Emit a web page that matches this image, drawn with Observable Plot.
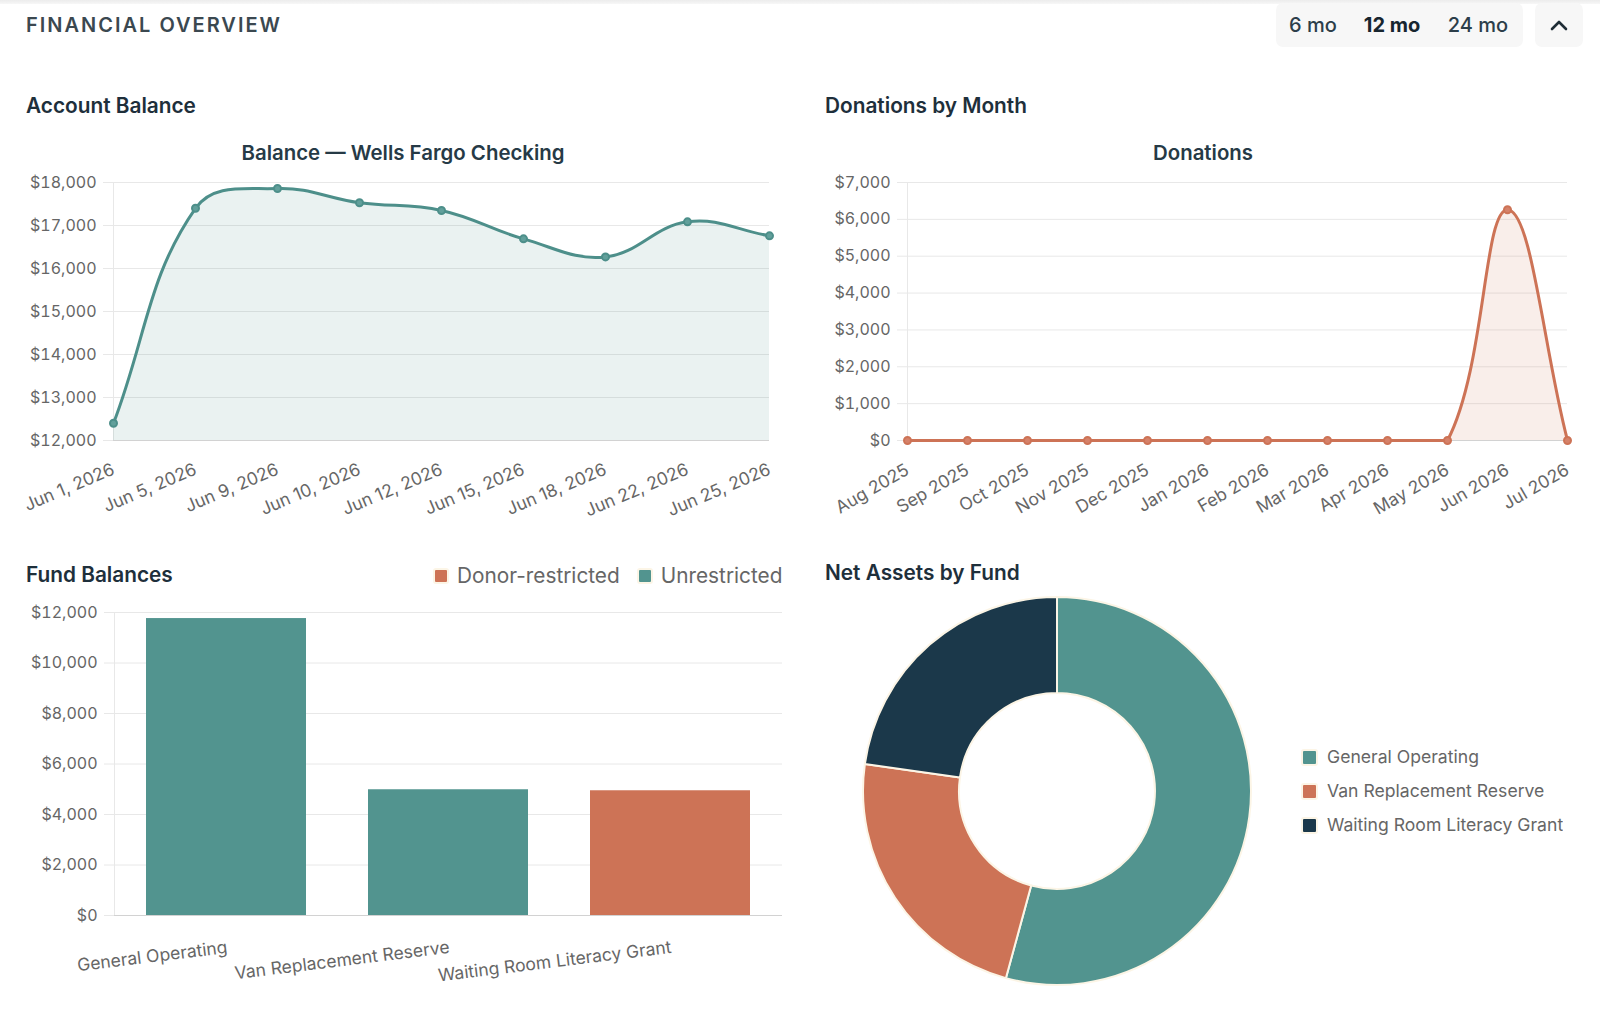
<!DOCTYPE html>
<html>
<head>
<meta charset="utf-8">
<script src="https://cdn.jsdelivr.net/npm/d3@7"></script>
<script src="https://cdn.jsdelivr.net/npm/@observablehq/plot@0.6"></script>
<style>
  html, body { margin: 0; padding: 0; background: #fff; }
  body { width: 1600px; height: 1015px; position: relative; overflow: hidden; font-family: Inter, "Noto Sans", sans-serif; }
  .abs { position: absolute; }
  .mid { transform: translateY(-50%); line-height: 1; white-space: nowrap; }
  .center { transform: translate(-50%, -50%); line-height: 1; white-space: nowrap; }
  .topband { left: 0; top: 0; width: 1600px; height: 4px; background: linear-gradient(#ececec, #f7f7f7); }
  .overview { font-size: 20px; font-weight: 600; letter-spacing: 2px; color: #3b4850; }
  .section { font-size: 20.8px; font-weight: 600; color: #1e2f3b; }
  .charttitle { font-size: 20.4px; font-weight: 600; color: #263a46; }
  .group { background: #f7f7f7; border-radius: 7px; }
  .period { font-size: 20px; font-weight: 500; color: #2c3e4a; }
  .period.active { font-weight: 700; color: #17252f; }
  .fund-key-swatch > svg rect, .asset-key-swatch > svg rect { rx: 2px; ry: 2px; stroke: #fcf5e6; stroke-width: 2px; }
</style>
</head>
<body>
<div id="root"></div>
<script>
// ---- data ----
const periodOptions = ["6 mo", "12 mo", "24 mo"];
const activePeriod = "12 mo";

const balanceDates = ["Jun 1, 2026", "Jun 5, 2026", "Jun 9, 2026", "Jun 10, 2026", "Jun 12, 2026", "Jun 15, 2026", "Jun 18, 2026", "Jun 22, 2026", "Jun 25, 2026"];
const balanceValues = [12400, 17400, 17860, 17530, 17350, 16690, 16270, 17085, 16760];
const balanceTicks = [12000, 13000, 14000, 15000, 16000, 17000, 18000];

const donationMonths = ["Aug 2025", "Sep 2025", "Oct 2025", "Nov 2025", "Dec 2025", "Jan 2026", "Feb 2026", "Mar 2026", "Apr 2026", "May 2026", "Jun 2026", "Jul 2026"];
const donationValues = [0, 0, 0, 0, 0, 0, 0, 0, 0, 0, 6260, 0];
const donationTicks = [0, 1000, 2000, 3000, 4000, 5000, 6000, 7000];

const funds = ["General Operating", "Van Replacement Reserve", "Waiting Room Literacy Grant"];
const fundBalances = [11760, 4980, 4940];
const fundRestrictions = ["Unrestricted", "Unrestricted", "Donor-restricted"];
const restrictionTypes = ["Donor-restricted", "Unrestricted"];
const fundTicks = [0, 2000, 4000, 6000, 8000, 10000, 12000];

// ---- palette ----
const TEAL = "#52948f";
const TEAL_LINE = "#4d8f8a";
const TEAL_FILL = "rgba(82,148,143,0.12)";
const TEAL_DOT = "#62a09b";
const ORANGE = "#cd7356";
const ORANGE_FILL = "rgba(205,115,86,0.12)";
const ORANGE_DOT = "#d5826a";
const NAVY = "#1b384a";
const CREAM = "#fcf5e6";
const GRID = "#e8e8e8";
const AXIS = "#d2d2d2";
const TICK = "#666";

const money = d3.format("$,");
const font = {fontFamily: "Inter, 'Noto Sans', sans-serif", fontSize: "16px", background: "transparent", overflow: "visible"};
const xTickFont = 17.5;

// Smooth spline with tension, control points kept inside the plot frame
class TensionSpline {
  constructor(context, [top, bottom], tension) {
    this._context = context; this._top = top; this._bottom = bottom; this._t = tension;
  }
  areaStart() { this._line = 0; }
  areaEnd() { this._line = NaN; }
  lineStart() { this._points = []; }
  point(x, y) { this._points.push([+x, +y]); }
  lineEnd() {
    const pts = this._points, n = pts.length, ctx = this._context;
    const cap = (y) => Math.max(this._top, Math.min(this._bottom, y));
    const ctrl = pts.map((cur, i) => {
      const prev = pts[Math.max(i - 1, 0)], next = pts[Math.min(i + 1, n - 1)];
      const d01 = Math.hypot(cur[0] - prev[0], cur[1] - prev[1]);
      const d12 = Math.hypot(next[0] - cur[0], next[1] - cur[1]);
      const s = d01 + d12;
      const fa = this._t * (s ? d01 / s : 0), fb = this._t * (s ? d12 / s : 0);
      const dx = next[0] - prev[0], dy = next[1] - prev[1];
      return {inX: cur[0] - fa * dx, inY: cap(cur[1] - fa * dy), outX: cur[0] + fb * dx, outY: cap(cur[1] + fb * dy)};
    });
    if (n) {
      if (this._line) ctx.lineTo(pts[0][0], pts[0][1]); else ctx.moveTo(pts[0][0], pts[0][1]);
      for (let i = 1; i < n; ++i) ctx.bezierCurveTo(ctrl[i - 1].outX, ctrl[i - 1].outY, ctrl[i].inX, ctrl[i].inY, pts[i][0], pts[i][1]);
    }
    if (this._line || (this._line !== 0 && n === 1)) ctx.closePath();
    this._line = 1 - this._line;
  }
}
const tensionCurve = (bounds, tension = 0.4) => (context) => new TensionSpline(context, bounds, tension);

function place(node, left, top) {
  node.classList.add("abs");
  node.style.left = left + "px";
  node.style.top = top + "px";
  document.body.appendChild(node);
  return node;
}
function label(text, cls, left, top) {
  const d = document.createElement("div");
  d.className = cls;
  d.textContent = text;
  return place(d, left, top);
}
// rotated category labels hanging from the bottom axis, ending at each tick
const xLabels = (rotate, pad = 28) => Plot.axisX({tickSize: 0, tickPadding: pad, tickRotate: rotate, textAnchor: "end", fill: TICK, fontSize: xTickFont, label: null});

// ---- header ----
place(Object.assign(document.createElement("div"), {className: "topband"}), 0, 0);
label("FINANCIAL OVERVIEW", "overview mid", 26, 25);
const grp = place(Object.assign(document.createElement("div"), {className: "group"}), 1276, 3);
grp.style.width = "247px"; grp.style.height = "44px";
const periodCenters = [1313, 1392, 1478];
periodOptions.forEach((p, i) => label(p, "period center" + (p === activePeriod ? " active" : ""), periodCenters[i], 25));
const chev = place(Object.assign(document.createElement("div"), {className: "group"}), 1535, 3);
chev.style.width = "48px"; chev.style.height = "44px";
chev.innerHTML = '<svg width="48" height="44"><polyline points="17,26 24,19 31,26" fill="none" stroke="#1f2d36" stroke-width="2.6" stroke-linecap="round" stroke-linejoin="round"/></svg>';

// ---- section titles ----
label("Account Balance", "section mid", 26, 106);
label("Donations by Month", "section mid", 825, 106);
label("Balance \u2014 Wells Fargo Checking", "charttitle center", 403, 153);
label("Donations", "charttitle center", 1203, 153);
label("Fund Balances", "section mid", 26, 575);
label("Net Assets by Fund", "section mid", 825, 573);

// ---- account balance line ----
{
  const W = 800, H = 340, mt = 12, mb = 70;
  const balance = balanceDates.map((date, i) => ({date, value: balanceValues[i]}));
  const curve = tensionCurve([mt, H - mb]);
  const chart = Plot.plot({
    width: W, height: H, marginLeft: 113, marginRight: 31, marginTop: mt, marginBottom: mb,
    style: font,
    x: {type: "point", domain: balanceDates, padding: 0, label: null},
    y: {domain: [balanceTicks[0], balanceTicks[balanceTicks.length - 1]], label: null},
    marks: [
      Plot.gridY(balanceTicks, {stroke: GRID, strokeOpacity: 1}),
      Plot.axisY(balanceTicks, {tickSize: 10, tickPadding: 7, stroke: GRID, strokeOpacity: 1, fill: TICK, tickFormat: money, label: null}),
      xLabels(-23),
      Plot.ruleY([balanceTicks[0]], {stroke: AXIS}),
      Plot.ruleX([balanceDates[0]], {stroke: GRID}),
      Plot.areaY(balance, {x: "date", y1: balanceTicks[0], y2: "value", fill: TEAL_FILL, curve}),
      Plot.lineY(balance, {x: "date", y: "value", stroke: TEAL_LINE, strokeWidth: 3, curve}),
      Plot.dot(balance, {x: "date", y: "value", r: 3.5, fill: TEAL_DOT, stroke: TEAL_LINE, strokeWidth: 2})
    ]
  });
  place(chart, 0, 170);
}

// ---- donations line ----
{
  const W = 800, H = 340, mt = 12, mb = 70;
  const donations = donationMonths.map((month, i) => ({month, value: donationValues[i]}));
  const curve = tensionCurve([mt, H - mb]);
  const chart = Plot.plot({
    width: W, height: H, marginLeft: 107, marginRight: 33, marginTop: mt, marginBottom: mb,
    style: font,
    x: {type: "point", domain: donationMonths, padding: 0, label: null},
    y: {domain: [donationTicks[0], donationTicks[donationTicks.length - 1]], label: null},
    marks: [
      Plot.gridY(donationTicks, {stroke: GRID, strokeOpacity: 1}),
      Plot.axisY(donationTicks, {tickSize: 10, tickPadding: 7, stroke: GRID, strokeOpacity: 1, fill: TICK, tickFormat: money, label: null}),
      xLabels(-30),
      Plot.ruleY([0], {stroke: AXIS}),
      Plot.ruleX([donationMonths[0]], {stroke: GRID}),
      Plot.areaY(donations, {x: "month", y1: 0, y2: "value", fill: ORANGE_FILL, curve}),
      Plot.lineY(donations, {x: "month", y: "value", stroke: ORANGE, strokeWidth: 3, curve}),
      Plot.dot(donations, {x: "month", y: "value", r: 3.5, fill: ORANGE_DOT, stroke: ORANGE, strokeWidth: 2})
    ]
  });
  place(chart, 800, 170);
}

// ---- fund balances bars ----
const fundRows = funds.map((fund, i) => ({fund, balance: fundBalances[i], restriction: fundRestrictions[i]}));
{
  const chart = Plot.plot({
    width: 800, height: 400, marginLeft: 114, marginRight: 18, marginTop: 17, marginBottom: 80,
    style: font,
    x: {type: "band", domain: funds, paddingInner: 0.28, paddingOuter: 0.14, label: null},
    y: {domain: [fundTicks[0], fundTicks[fundTicks.length - 1]], label: null},
    color: {domain: restrictionTypes, range: [ORANGE, TEAL]},
    marks: [
      Plot.gridY(fundTicks, {stroke: GRID, strokeOpacity: 1}),
      Plot.axisY(fundTicks, {tickSize: 10, tickPadding: 7, stroke: GRID, strokeOpacity: 1, fill: TICK, tickFormat: money, label: null}),
      xLabels(-7, 25),
      Plot.frame({anchor: "left", stroke: GRID}),
      Plot.barY(fundRows, {x: "fund", y: "balance", fill: "restriction"}),
      Plot.ruleY([0], {stroke: AXIS})
    ]
  });
  place(chart, 0, 595);

  const key = Plot.legend({
    color: {domain: restrictionTypes, range: [ORANGE, TEAL]},
    className: "fund-key", swatchWidth: 14, swatchHeight: 14,
    style: {fontFamily: "Inter, 'Noto Sans', sans-serif", fontSize: "20.8px", color: TICK, margin: 0}
  });
  place(key, 434, 559);
}

// ---- net assets donut ----
{
  const ring = (index, scales, values, dimensions) => {
    const {width, height, marginLeft, marginRight, marginTop, marginBottom} = dimensions;
    const cx = marginLeft + (width - marginLeft - marginRight) / 2;
    const cy = marginTop + (height - marginTop - marginBottom) / 2;
    const outer = Math.min(width - marginLeft - marginRight, height - marginTop - marginBottom) / 2 - 17;
    const slices = d3.pie().sort(null).value((d) => d.balance)(fundRows);
    const arc = d3.arc().innerRadius(outer * 0.505).outerRadius(outer);
    const g = d3.create("svg:g").attr("transform", `translate(${cx},${cy})`);
    g.selectAll("path").data(slices).join("path")
      .attr("d", arc)
      .attr("fill", (d) => scales.color(d.data.fund))
      .attr("stroke", CREAM).attr("stroke-width", 2).attr("stroke-linejoin", "round");
    return g.node();
  };
  const chart = Plot.plot({
    width: 434, height: 422, margin: 0,
    style: font,
    color: {domain: funds, range: [TEAL, ORANGE, NAVY]},
    marks: [
      Plot.dot(fundRows, {fill: "fund", r: 0}),
      ring
    ]
  });
  place(chart, 840, 580);

  const key = Plot.legend({
    color: {domain: funds, range: [TEAL, ORANGE, NAVY]},
    className: "asset-key", columns: 1, swatchSize: 15,
    style: {fontFamily: "Inter, 'Noto Sans', sans-serif", fontSize: "17.6px", color: TICK, margin: 0}
  });
  place(key, 1302, 740);
}
</script>
<style>
  .fund-key-swatch { margin-right: 18px !important; line-height: 26px; }
  .fund-key-swatch > svg { margin-right: 9px !important; }
  .asset-key-swatch { padding-bottom: 0 !important; height: 34px; line-height: 34px; }
  .asset-key-swatch > svg { margin-right: 10px !important; }
</style>
</body>
</html>
